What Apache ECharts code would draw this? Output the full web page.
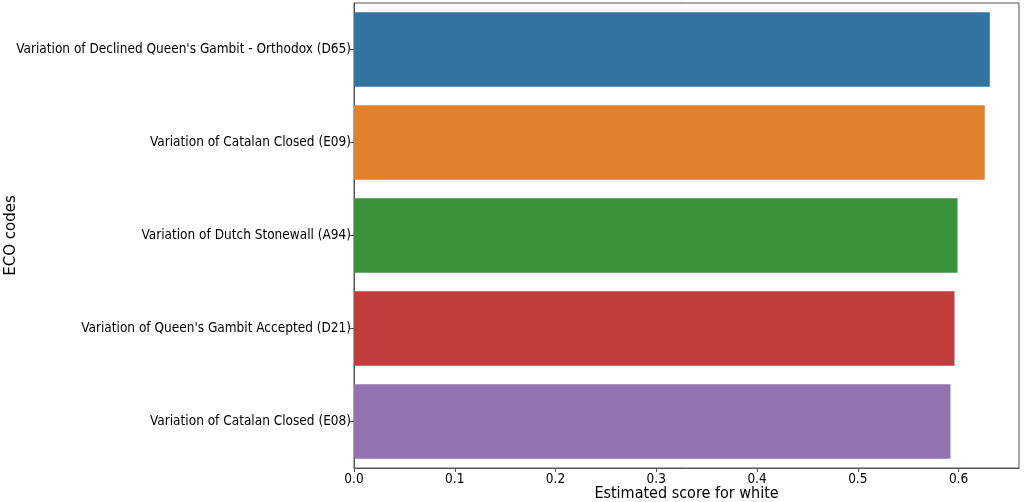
<!DOCTYPE html>
<html><head><meta charset="utf-8">
<script src="https://cdn.jsdelivr.net/npm/echarts@6/dist/echarts.min.js"></script>
<style>html,body{margin:0;padding:0;background:#fff}#c{width:1024px;height:502px}</style>
</head><body><div id="c"></div>
<script>
const categories = [
  "Variation of Declined Queen's Gambit - Orthodox (D65)",
  "Variation of Catalan Closed (E09)",
  "Variation of Dutch Stonewall (A94)",
  "Variation of Queen's Gambit Accepted (D21)",
  "Variation of Catalan Closed (E08)"
];
const scores = [0.631, 0.626, 0.599, 0.596, 0.592];
const xTicks = [0.0, 0.1, 0.2, 0.3, 0.4, 0.5, 0.6];

const palette = ['#3274a1', '#e1812c', '#3a923a', '#c03d3e', '#9372b2'];
const font = 'DejaVu Sans Condensed';
const chart = echarts.init(document.getElementById('c'), null, {renderer: 'canvas'});
chart.setOption({
  animation: false,
  backgroundColor: '#fff',
  grid: {left: 354, right: 5, top: 3, bottom: 34, show: true, borderColor: '#555', borderWidth: 1,
         containLabel: false, outerBoundsMode: 'none'},
  xAxis: {
    type: 'value', min: 0, max: 0.66, interval: 0.1,
    name: 'Estimated score for white', nameLocation: 'middle', nameGap: 17.5, nameMoveOverlap: false,
    nameTextStyle: {fontFamily: font, fontSize: 16, color: '#000'},
    axisLine: {show: true, lineStyle: {color: '#555'}},
    axisTick: {show: true, length: 4, lineStyle: {color: '#555'}},
    splitLine: {show: false},
    axisLabel: {fontFamily: font, fontSize: 13.5, color: '#000', margin: 4, showMaxLabel: false,
      formatter: v => xTicks.some(t => Math.abs(t - v) < 1e-9) ? v.toFixed(1) : ''}
  },
  yAxis: {
    type: 'category', data: categories, inverse: true,
    name: 'ECO codes', nameLocation: 'middle', nameGap: 335, nameRotate: 90, nameMoveOverlap: false,
    nameTextStyle: {fontFamily: 'DejaVu Sans', fontSize: 15, color: '#000'},
    axisLine: {show: true, lineStyle: {color: '#555'}},
    axisTick: {show: true, length: 4, alignWithLabel: true, lineStyle: {color: '#555'}},
    axisLabel: {fontFamily: font, fontSize: 13.5, color: '#000', margin: 3}
  },
  series: [{
    type: 'bar', barCategoryGap: '20%',
    data: scores.map((v, i) => ({value: v, itemStyle: {color: palette[i]}}))
  }]
});
</script></body></html>
